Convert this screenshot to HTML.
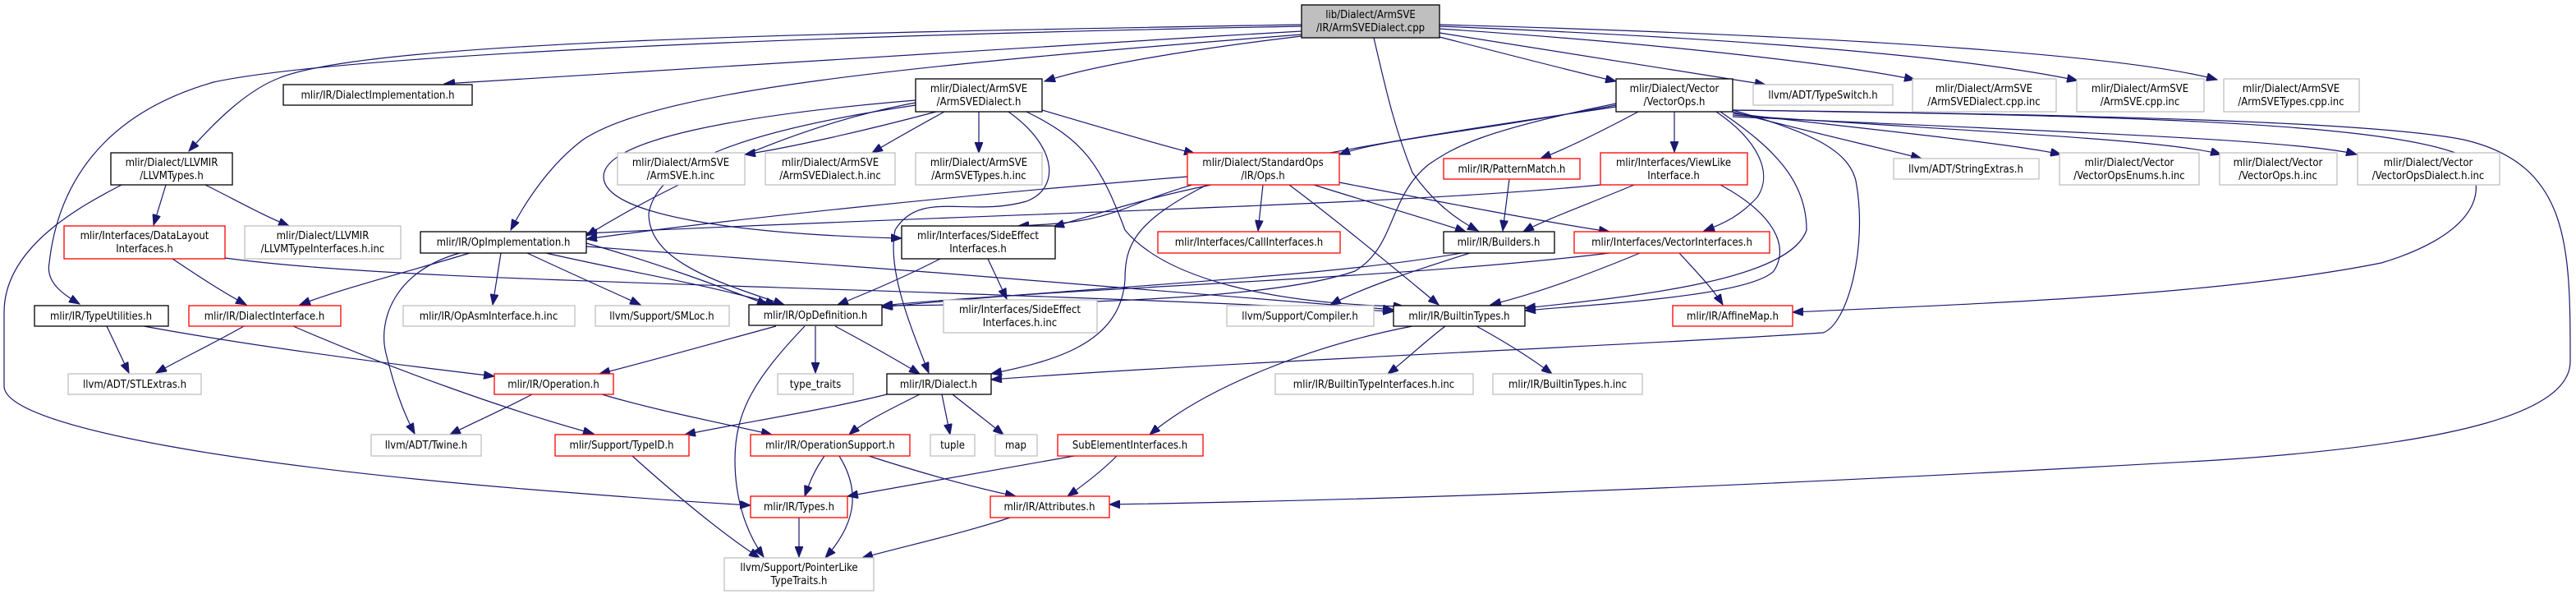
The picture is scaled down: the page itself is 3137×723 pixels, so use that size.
<!DOCTYPE html>
<html><head><meta charset="utf-8"><style>
html,body{margin:0;padding:0;background:#fff;}
svg{display:block;}
text{font-family:"DejaVu Sans Condensed","DejaVu Sans","Liberation Sans",sans-serif;font-size:13px;fill:#000;text-anchor:middle;}
.b{fill:#fff;stroke:#000;stroke-width:1.3;}
.r{fill:#fff;stroke:#ff0000;stroke-width:1.3;}
.g{fill:#fff;stroke:#bfbfbf;stroke-width:1.3;}
path{fill:none;stroke:#191970;stroke-width:1.2;marker-end:url(#a);}
</style></head><body>
<svg width="3137" height="723" viewBox="0 0 3137 723" xmlns="http://www.w3.org/2000/svg">
<defs><marker id="a" markerUnits="userSpaceOnUse" markerWidth="14" markerHeight="10" refX="13" refY="5" orient="auto"><polygon points="0,0 13,5 0,10" fill="#191970" stroke="#191970"/></marker></defs>

<!-- edges from cpp -->
<path d="M1585,30 C1000,40 450,50 340,95 C300,110 260,150 230,184"/>
<path d="M1585,32 C900,45 400,70 260,100 C120,140 70,230 60,320 C55,345 80,360 97,370"/>
<path d="M1585,38 C1200,60 800,85 541,102"/>
<path d="M1585,42 C1100,80 800,110 710,170 C670,200 640,245 622,280"/>
<path d="M1585,44 C1450,60 1330,80 1272,99"/>
<path d="M1673,46 C1690,120 1700,160 1720,210 C1745,245 1770,265 1800,281"/>
<path d="M1753,45 C1850,70 1920,88 1968,99"/>
<path d="M1753,40 C1950,70 2080,92 2150,103"/>
<path d="M1753,35 C2050,55 2250,80 2332,97"/>
<path d="M1753,32 C2200,50 2420,75 2530,98"/>
<path d="M1753,30 C2300,45 2600,70 2700,97"/>

<!-- ArmSVEDialect.h -->
<path d="M1140,136 C1050,160 960,180 907,188"/>
<path d="M1150,136 C1110,158 1080,175 1062,186"/>
<path d="M1192,136 L1192,186"/>
<path d="M1269,134 C1350,158 1420,178 1455,187"/>
<path d="M1115,122 C900,140 735,170 735,215 C735,262 900,285 1098,290"/>
<path d="M1115,125 C950,155 790,240 714,287"/>
<path d="M1115,128 C900,160 800,200 790,260 C790,320 880,345 955,371"/>
<path d="M1228,136 C1290,180 1290,230 1250,245 C1180,265 1120,230 1090,280 C1080,330 1110,400 1131,454"/>
<path d="M1250,136 C1320,170 1340,200 1370,280 C1420,340 1550,370 1710,373"/>

<!-- StandardOps -->
<path d="M1446,215 C1200,235 900,265 714,291"/>
<path d="M1475,225 C1400,240 1330,262 1283,276"/>
<path d="M1538,225 L1532,281"/>
<path d="M1600,225 C1680,250 1750,270 1785,282"/>
<path d="M1631,222 C1750,245 1880,270 1960,282"/>
<path d="M1570,225 C1630,270 1690,320 1752,371"/>
<path d="M1470,225 C1380,270 1370,300 1370,340 C1365,420 1280,440 1207,455"/>

<!-- VectorOps -->
<path d="M1968,128 C1800,160 1680,170 1631,188"/>
<path d="M1968,130 C1700,170 1500,200 1380,250 C1330,270 1300,272 1240,275"/>
<path d="M1968,126 C1800,160 1770,180 1740,200 C1690,240 1700,300 1650,330 C1550,365 1300,370 1074,372"/>
<path d="M1995,136 C1950,160 1910,180 1876,193"/>
<path d="M2039,136 L2039,185"/>
<path d="M2090,136 C2140,170 2160,210 2140,240 C2120,262 2100,272 2075,281"/>
<path d="M2095,136 C2160,180 2200,220 2200,280 C2180,340 2000,360 1857,375"/>
<path d="M2110,134 C2200,160 2250,180 2260,220 C2275,300 2250,395 2220,405 C2000,420 1500,440 1207,462"/>
<path d="M2110,134 C2600,140 2900,150 3000,170 C3130,200 3130,300 3130,440 C3130,500 3000,540 2700,560 C2000,600 1600,610 1351,614"/>
<path d="M2110,134 C2500,140 2900,145 3000,190 C3040,240 3000,290 2900,320 C2700,360 2400,370 2183,380"/>
<path d="M2110,136 C2200,160 2290,180 2340,193"/>
<path d="M2110,138 C2300,160 2450,175 2510,188"/>
<path d="M2110,140 C2400,160 2640,170 2705,188"/>
<path d="M2110,142 C2500,160 2800,170 2870,188"/>

<!-- ViewLike -->
<path d="M1990,225 C1930,250 1880,268 1855,282"/>
<path d="M2095,225 C2160,260 2180,300 2160,330 C2130,360 1950,370 1857,378"/>
<path d="M1949,225 C1700,250 1200,260 714,284"/>

<!-- PatternMatch / Builders / VectorInterfaces / SideEffect -->
<path d="M1838,218 L1830,281"/>
<path d="M1780,308 C1600,340 1300,350 1074,374"/>
<path d="M1790,308 C1720,330 1660,350 1620,371"/>
<path d="M1960,308 C1700,340 1300,350 1074,372"/>
<path d="M1997,308 C1920,340 1860,360 1815,371"/>
<path d="M2045,308 C2065,330 2085,350 2098,371"/>
<path d="M1145,315 C1100,338 1060,355 1020,371"/>
<path d="M1203,315 L1226,364"/>

<!-- OpImplementation -->
<path d="M572,308 C500,330 420,350 365,371"/>
<path d="M610,308 L600,371"/>
<path d="M642,308 C700,335 745,355 780,371"/>
<path d="M665,308 C760,330 880,350 945,371"/>
<path d="M560,308 C480,330 460,390 470,430 C480,470 490,500 505,528"/>
<path d="M714,300 C1000,320 1500,360 1697,377"/>
<path d="M714,296 C800,320 880,350 935,371"/>

<!-- DataLayout / LLVMTypes -->
<path d="M210,315 C240,335 270,355 300,371"/>
<path d="M274,314 C500,345 1000,345 1697,379"/>
<path d="M202,225 L187,274"/>
<path d="M250,225 C290,245 320,262 352,275"/>
<path d="M148,225 C100,250 5,300 5,380 L5,470 C5,520 300,570 700,600 C800,608 860,612 914,615"/>

<!-- TypeUtilities / DialectInterface -->
<path d="M130,397 L157,454"/>
<path d="M175,397 C300,420 450,440 602,458"/>
<path d="M297,397 C260,418 220,437 190,454"/>
<path d="M357,397 C480,450 620,500 723,528"/>

<!-- OpDefinition -->
<path d="M945,397 C860,420 790,440 730,455"/>
<path d="M993,397 L993,454"/>
<path d="M1017,397 C1060,420 1095,440 1120,455"/>
<path d="M980,397 C920,460 895,500 895,560 C895,610 910,650 930,678"/>

<!-- Operation / Dialect -->
<path d="M648,480 C610,500 575,515 548,529"/>
<path d="M733,480 C800,500 880,515 940,529"/>
<path d="M1080,480 C1000,500 900,515 834,529"/>
<path d="M1120,480 C1080,500 1050,515 1034,529"/>
<path d="M1147,480 L1157,529"/>
<path d="M1160,480 C1185,500 1205,515 1222,529"/>

<!-- BuiltinTypes -->
<path d="M1720,397 C1600,420 1470,470 1400,529"/>
<path d="M1760,397 C1730,420 1710,440 1690,455"/>
<path d="M1798,397 C1840,420 1870,440 1890,455"/>

<!-- lower -->
<path d="M770,555 C820,600 880,650 925,679"/>
<path d="M1004,555 C990,575 985,590 980,604"/>
<path d="M1022,555 C1050,600 1040,640 1005,679"/>
<path d="M1058,555 C1120,575 1180,592 1237,604"/>
<path d="M1308,555 C1200,575 1100,592 1032,604"/>
<path d="M1360,555 C1340,575 1320,590 1300,604"/>
<path d="M973,630 L973,678"/>
<path d="M1230,630 C1170,650 1100,665 1050,679"/>

<!-- nodes -->
<rect class="b" x="1585" y="6" width="168" height="40" style="fill:#bfbfbf"/><text x="1669" y="22">lib/Dialect/ArmSVE</text><text x="1669" y="38">/IR/ArmSVEDialect.cpp</text>

<rect class="b" x="345" y="103" width="230" height="25"/><text x="460" y="120">mlir/IR/DialectImplementation.h</text>
<rect class="b" x="1115" y="96" width="154" height="40"/><text x="1192" y="112">mlir/Dialect/ArmSVE</text><text x="1192" y="128">/ArmSVEDialect.h</text>
<rect class="b" x="1968" y="96" width="142" height="40"/><text x="2039" y="112">mlir/Dialect/Vector</text><text x="2039" y="128">/VectorOps.h</text>
<rect class="g" x="2135" y="103" width="170" height="25"/><text x="2220" y="120">llvm/ADT/TypeSwitch.h</text>
<rect class="g" x="2329" y="96" width="175" height="40"/><text x="2416" y="112">mlir/Dialect/ArmSVE</text><text x="2416" y="128">/ArmSVEDialect.cpp.inc</text>
<rect class="g" x="2529" y="96" width="155" height="40"/><text x="2606" y="112">mlir/Dialect/ArmSVE</text><text x="2606" y="128">/ArmSVE.cpp.inc</text>
<rect class="g" x="2708" y="96" width="165" height="40"/><text x="2790" y="112">mlir/Dialect/ArmSVE</text><text x="2790" y="128">/ArmSVETypes.cpp.inc</text>

<rect class="b" x="135" y="186" width="148" height="39"/><text x="209" y="202">mlir/Dialect/LLVMIR</text><text x="209" y="218">/LLVMTypes.h</text>
<rect class="g" x="752" y="186" width="155" height="39"/><text x="829" y="202">mlir/Dialect/ArmSVE</text><text x="829" y="218">/ArmSVE.h.inc</text>
<rect class="g" x="932" y="186" width="158" height="39"/><text x="1011" y="202">mlir/Dialect/ArmSVE</text><text x="1011" y="218">/ArmSVEDialect.h.inc</text>
<rect class="g" x="1115" y="186" width="154" height="39"/><text x="1192" y="202">mlir/Dialect/ArmSVE</text><text x="1192" y="218">/ArmSVETypes.h.inc</text>
<rect class="r" x="1446" y="186" width="185" height="39"/><text x="1538" y="202">mlir/Dialect/StandardOps</text><text x="1538" y="218">/IR/Ops.h</text>
<rect class="r" x="1758" y="193" width="166" height="25"/><text x="1841" y="210">mlir/IR/PatternMatch.h</text>
<rect class="r" x="1949" y="186" width="179" height="39"/><text x="2038" y="202">mlir/Interfaces/ViewLike</text><text x="2038" y="218">Interface.h</text>
<rect class="g" x="2306" y="193" width="177" height="25"/><text x="2394" y="210">llvm/ADT/StringExtras.h</text>
<rect class="g" x="2508" y="186" width="170" height="39"/><text x="2593" y="202">mlir/Dialect/Vector</text><text x="2593" y="218">/VectorOpsEnums.h.inc</text>
<rect class="g" x="2703" y="186" width="143" height="39"/><text x="2774" y="202">mlir/Dialect/Vector</text><text x="2774" y="218">/VectorOps.h.inc</text>
<rect class="g" x="2871" y="186" width="173" height="39"/><text x="2957" y="202">mlir/Dialect/Vector</text><text x="2957" y="218">/VectorOpsDialect.h.inc</text>

<rect class="r" x="78" y="275" width="196" height="40"/><text x="176" y="291">mlir/Interfaces/DataLayout</text><text x="176" y="307">Interfaces.h</text>
<rect class="g" x="298" y="275" width="190" height="40"/><text x="393" y="291">mlir/Dialect/LLVMIR</text><text x="393" y="307">/LLVMTypeInterfaces.h.inc</text>
<rect class="b" x="512" y="282" width="202" height="26"/><text x="613" y="299">mlir/IR/OpImplementation.h</text>
<rect class="b" x="1098" y="275" width="187" height="40"/><text x="1191" y="291">mlir/Interfaces/SideEffect</text><text x="1191" y="307">Interfaces.h</text>
<rect class="r" x="1410" y="282" width="222" height="26"/><text x="1521" y="299">mlir/Interfaces/CallInterfaces.h</text>
<rect class="b" x="1758" y="282" width="135" height="26"/><text x="1825" y="299">mlir/IR/Builders.h</text>
<rect class="r" x="1917" y="282" width="238" height="26"/><text x="2036" y="299">mlir/Interfaces/VectorInterfaces.h</text>

<rect class="b" x="42" y="372" width="163" height="25"/><text x="123" y="389">mlir/IR/TypeUtilities.h</text>
<rect class="r" x="230" y="372" width="185" height="25"/><text x="322" y="389">mlir/IR/DialectInterface.h</text>
<rect class="g" x="491" y="372" width="209" height="25"/><text x="595" y="389">mlir/IR/OpAsmInterface.h.inc</text>
<rect class="g" x="725" y="372" width="163" height="25"/><text x="806" y="389">llvm/Support/SMLoc.h</text>
<rect class="b" x="912" y="371" width="162" height="25"/><text x="993" y="388">mlir/IR/OpDefinition.h</text>
<rect class="g" x="1149" y="365" width="187" height="40"/><text x="1242" y="381">mlir/Interfaces/SideEffect</text><text x="1242" y="397">Interfaces.h.inc</text>
<rect class="g" x="1494" y="372" width="179" height="25"/><text x="1583" y="389">llvm/Support/Compiler.h</text>
<rect class="b" x="1697" y="372" width="160" height="25"/><text x="1777" y="389">mlir/IR/BuiltinTypes.h</text>
<rect class="r" x="2037" y="372" width="146" height="25"/><text x="2110" y="389">mlir/IR/AffineMap.h</text>

<rect class="g" x="83" y="455" width="162" height="25"/><text x="164" y="472">llvm/ADT/STLExtras.h</text>
<rect class="r" x="602" y="455" width="145" height="25"/><text x="674" y="472">mlir/IR/Operation.h</text>
<rect class="g" x="947" y="455" width="92" height="25"/><text x="993" y="472">type_traits</text>
<rect class="b" x="1080" y="455" width="127" height="25"/><text x="1143" y="472">mlir/IR/Dialect.h</text>
<rect class="g" x="1553" y="455" width="241" height="25"/><text x="1673" y="472">mlir/IR/BuiltinTypeInterfaces.h.inc</text>
<rect class="g" x="1818" y="455" width="182" height="25"/><text x="1909" y="472">mlir/IR/BuiltinTypes.h.inc</text>

<rect class="g" x="452" y="529" width="134" height="26"/><text x="519" y="546">llvm/ADT/Twine.h</text>
<rect class="r" x="676" y="529" width="163" height="26"/><text x="757" y="546">mlir/Support/TypeID.h</text>
<rect class="r" x="914" y="529" width="194" height="26"/><text x="1011" y="546">mlir/IR/OperationSupport.h</text>
<rect class="g" x="1133" y="529" width="54" height="26"/><text x="1160" y="546">tuple</text>
<rect class="g" x="1212" y="529" width="51" height="26"/><text x="1237" y="546">map</text>
<rect class="r" x="1288" y="529" width="177" height="26"/><text x="1376" y="546">SubElementInterfaces.h</text>

<rect class="r" x="914" y="604" width="118" height="26"/><text x="973" y="621">mlir/IR/Types.h</text>
<rect class="r" x="1206" y="604" width="145" height="26"/><text x="1278" y="621">mlir/IR/Attributes.h</text>
<rect class="g" x="882" y="679" width="182" height="40"/><text x="973" y="695">llvm/Support/PointerLike</text><text x="973" y="711">TypeTraits.h</text>
</svg>
</body></html>
